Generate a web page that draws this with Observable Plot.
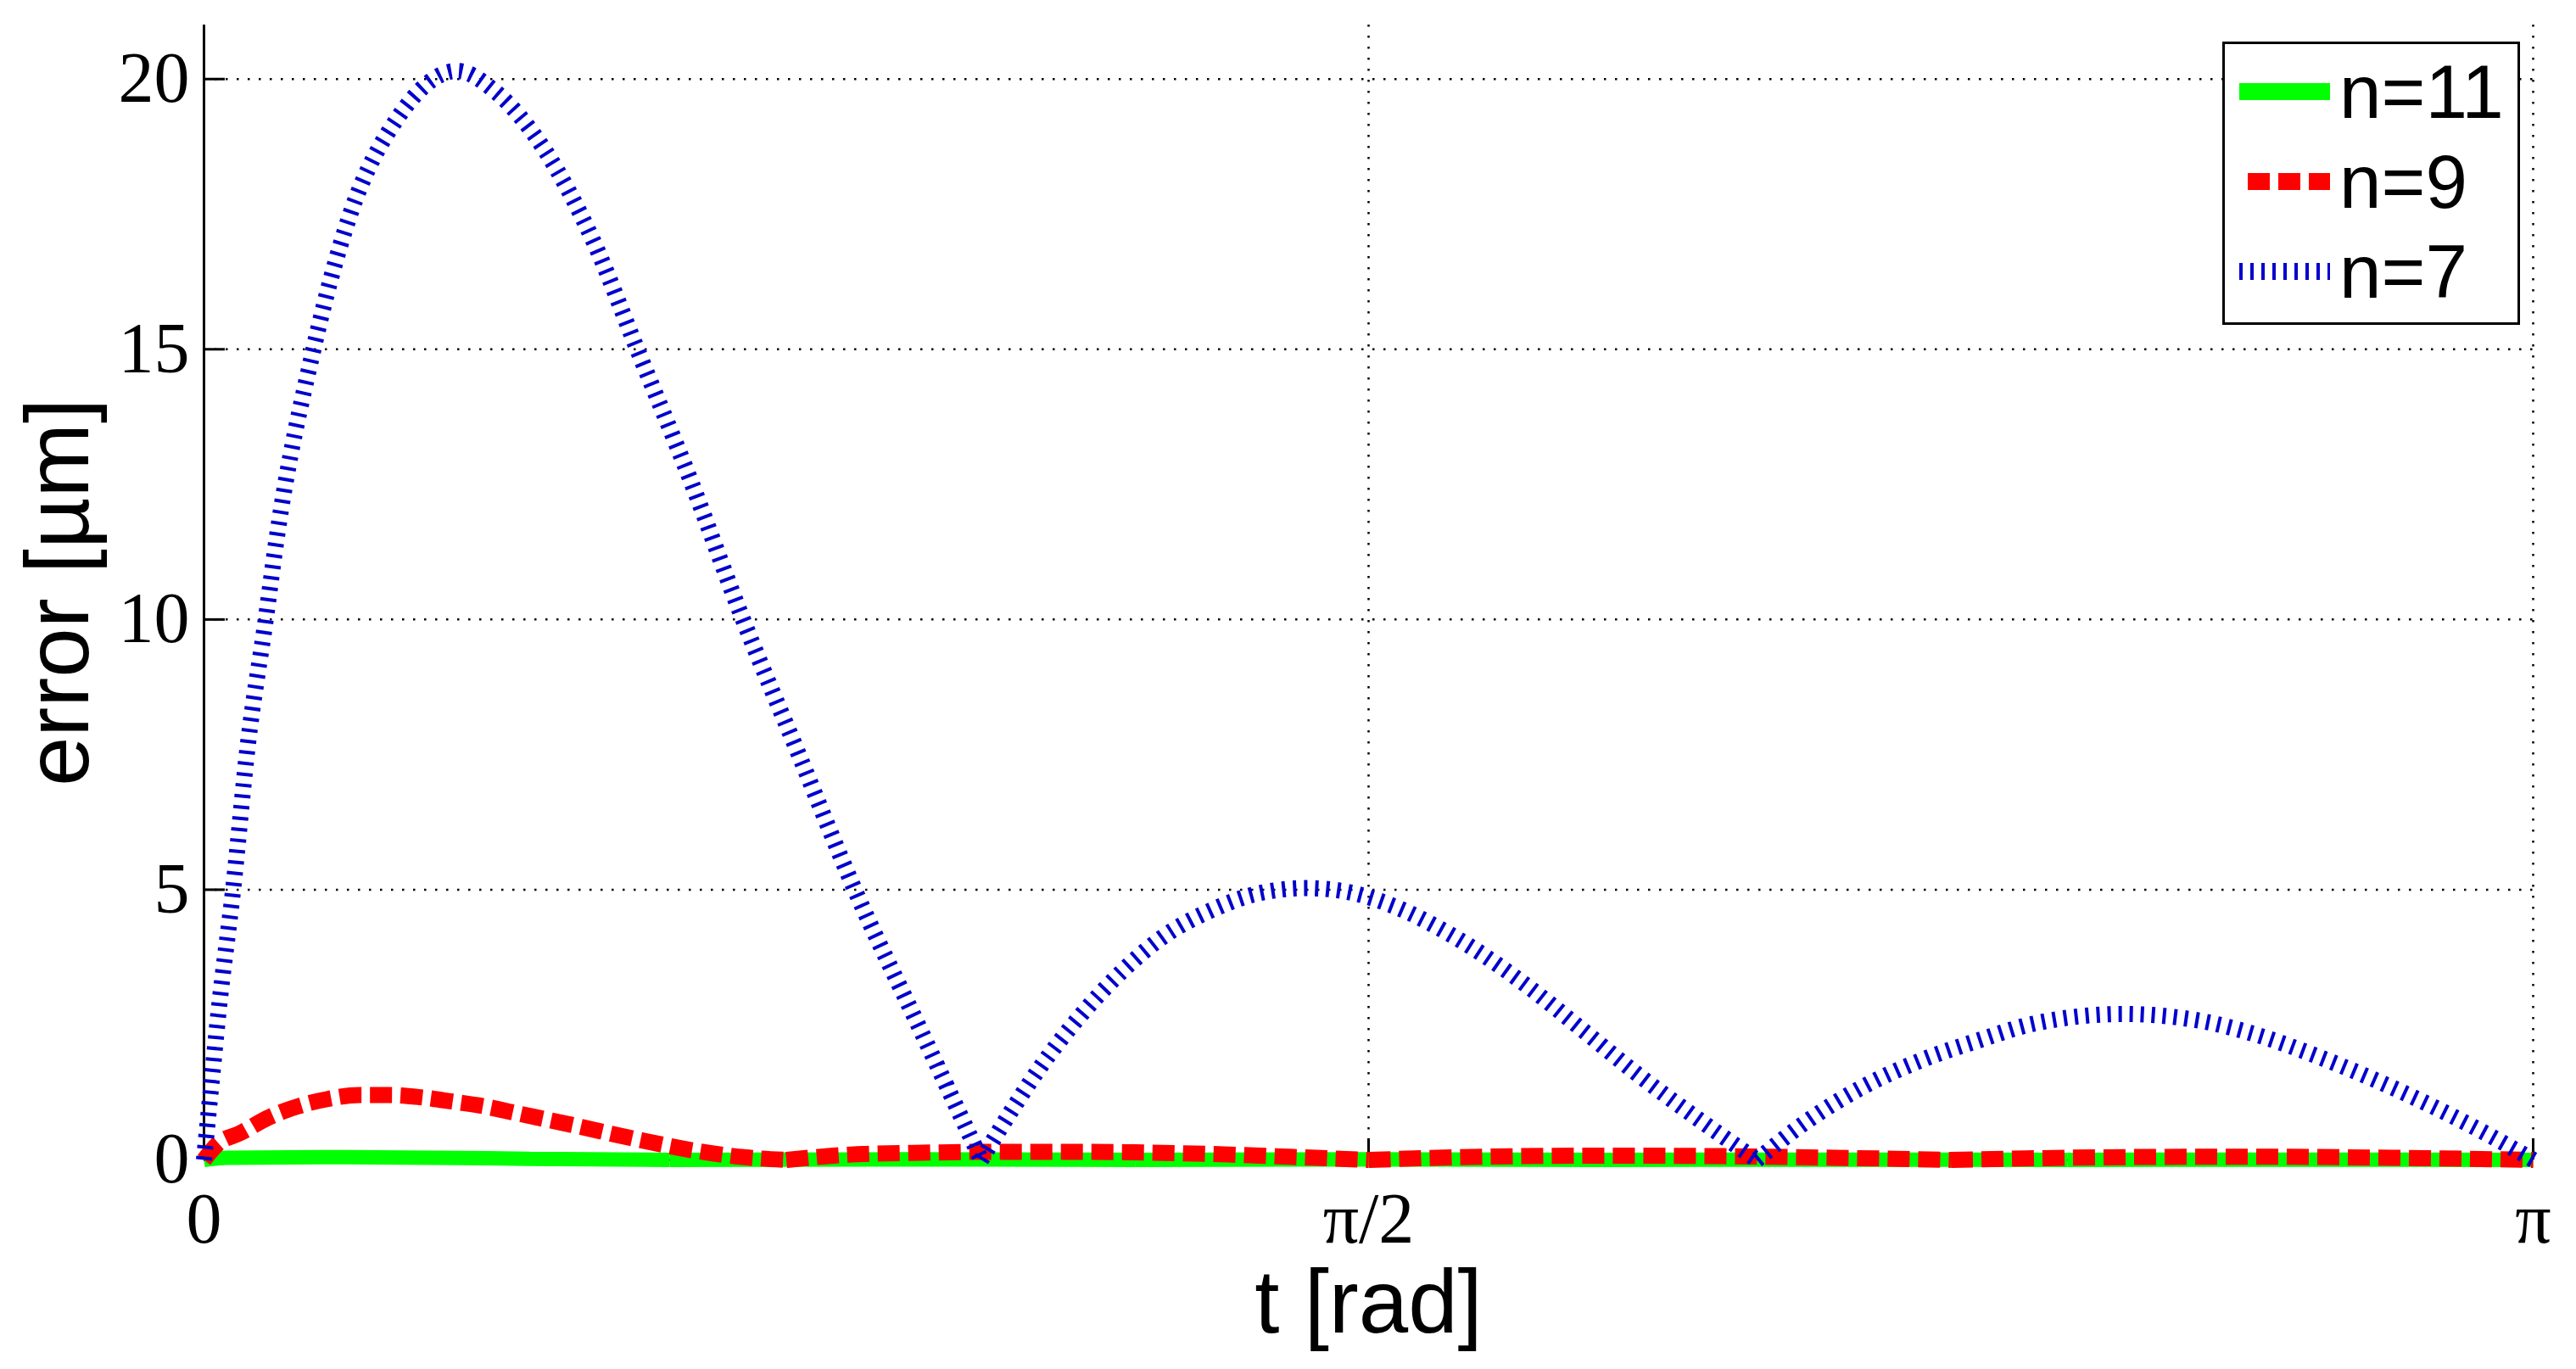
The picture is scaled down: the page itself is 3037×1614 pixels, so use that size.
<!DOCTYPE html>
<html>
<head>
<meta charset="utf-8">
<script src="https://cdn.jsdelivr.net/npm/d3@7"></script>
<script src="https://cdn.jsdelivr.net/npm/@observablehq/plot@0.6"></script>
<style>
  html, body { margin: 0; padding: 0; background: #fff; }
  #wrap { position: relative; width: 3037px; height: 1614px; background: #fff; }
  #legend { position: absolute; left: 2620px; top: 49px; width: 351px; height: 334px;
            border: 3px solid #000; box-sizing: border-box; background: #fff;
            font-family: "Liberation Sans", Arial, sans-serif; font-size: 89px; color: #000; }
  .row { position: absolute; left: 17px; height: 100px; display: flex; align-items: center; }
  .row svg { display: block; }
  .row span { margin-left: 11px; line-height: 1; }
</style>
</head>
<body>
<div id="wrap"><div id="legend"></div></div>
<script>
// ---- tick definitions ----
const xTicks = [0, 0.5, 1];              // in units of π
const xTickLabels = ["0", "π/2", "π"];
const yTicks = [0, 5, 10, 15, 20];

// ---- series (t in units of π, error in µm) ----
const seriesNames = ["n=11", "n=9", "n=7"];
const seriesColors = ["#00ff00", "#ff0000", "#0000cc"];

const tN11 = [0, 0.01, 0.05, 0.1, 0.14, 0.2, 0.3, 0.4, 0.5, 0.6, 0.7, 0.8, 0.9, 1];
const vN11 = [0, 0.04, 0.05, 0.04, 0.02, 0, 0.01, 0, 0.01, 0, 0.005, 0, 0.005, 0];

const tN9 = [0, 0.006, 0.0157, 0.028, 0.041, 0.0535, 0.0667, 0.08, 0.093, 0.1066, 0.1206, 0.1337,
             0.1588, 0.186, 0.211, 0.232, 0.25, 0.278, 0.305, 0.34, 0.37, 0.40, 0.44, 0.47, 0.5,
             0.55, 0.6, 0.65, 0.7, 0.75, 0.8, 0.87, 0.94, 1];
const vN9 = [0, 0.3, 0.5, 0.79, 1.0, 1.13, 1.2, 1.2, 1.16, 1.08, 0.99, 0.87,
             0.64, 0.38, 0.17, 0.05, 0, 0.1, 0.13, 0.15, 0.15, 0.14, 0.1, 0.05, 0,
             0.06, 0.08, 0.07, 0.04, 0, 0.04, 0.06, 0.04, 0];

const tN7 = [0, 0.0031, 0.0063, 0.0125, 0.0188, 0.0265, 0.0313, 0.047, 0.0627, 0.0836, 0.1087,
             0.1253, 0.1464, 0.1672, 0.186, 0.2087, 0.2314, 0.2554, 0.2794, 0.3066, 0.3337,
             0.348, 0.3596, 0.3759, 0.3944, 0.4108, 0.434, 0.4525, 0.4734, 0.4897, 0.5106, 0.534,
             0.5687, 0.592, 0.615, 0.6385, 0.6667,
             0.689, 0.713, 0.737, 0.761, 0.7854, 0.824, 0.8577, 0.8817, 0.906, 0.930, 0.954, 0.978, 1];
const vN7 = [0, 1.37, 2.76, 5.0, 7.67, 10.0, 11.53, 15.0, 17.49, 19.31, 20.15,
             19.76, 18.68, 17.0, 15.0, 12.6, 10.0, 7.5, 5.0, 2.5, 0,
             1.0, 1.75, 2.65, 3.5, 4.1, 4.65, 4.93, 5.03, 4.97, 4.7, 4.2,
             3.2, 2.4, 1.6, 0.85, 0,
             0.74, 1.37, 1.84, 2.2, 2.52, 2.7, 2.57, 2.31, 1.94, 1.52, 1.05, 0.53, 0];

const lineWidths = [17, 19, 19];
const lineDashes = ["none", "26,10", "4,9"];

// build a table; each interior zero closes one arch and opens the next (sharp V at zeros)
function rows(name, t, v) {
  const out = [];
  let arch = 0;
  t.forEach((d, i) => {
    out.push({series: name, arch, t: d * Math.PI, v: v[i]});
    if (v[i] === 0 && i > 0 && i < t.length - 1) {
      arch += 1;
      out.push({series: name, arch, t: d * Math.PI, v: v[i]});
    }
  });
  return out;
}
const dataN11 = rows(seriesNames[0], tN11, vN11);
const dataN9 = rows(seriesNames[1], tN9, vN9);
const dataN7 = rows(seriesNames[2], tN7, vN7);

const xTickVals = xTicks.map(d => d * Math.PI);
const xFmt = d => xTickLabels[xTickVals.findIndex(x => Math.abs(x - d) < 1e-9)];

const gridStyle = {stroke: "#000", strokeOpacity: 1, strokeWidth: 2.5, strokeDasharray: "2.5,10.5"};
const lineStyle = i => ({x: "t", y: "v", z: "arch", stroke: seriesColors[i], strokeWidth: lineWidths[i],
                         strokeDasharray: lineDashes[i], strokeLinecap: "butt", strokeLinejoin: "miter",
                         curve: "monotone-x"});

const chart = Plot.plot({
  width: 3037,
  height: 1614,
  marginLeft: 240,
  marginRight: 51,
  marginTop: 29,
  marginBottom: 247,
  style: {background: "#fff", color: "#000"},
  x: {domain: [0, Math.PI]},
  y: {domain: [0, 21]},
  marks: [
    Plot.gridX(xTickVals.slice(1), gridStyle),
    Plot.gridY(yTicks.slice(1), gridStyle),
    Plot.ruleX([0], {stroke: "#000", strokeWidth: 3}),
    Plot.ruleY([0], {stroke: "#000", strokeWidth: 3}),
    Plot.axisY(yTicks, {tickSize: -25, tickPadding: 42, strokeWidth: 3, fontSize: 84,
                        fontFamily: "Liberation Serif", tickFormat: d => String(d), label: null}),
    Plot.axisX(xTickVals, {tickSize: -25, tickPadding: 63, strokeWidth: 3, fontSize: 84,
                           fontFamily: "Liberation Serif", tickFormat: xFmt, label: null}),
    Plot.axisY([], {label: "error [µm]", labelAnchor: "center", labelArrow: "none", labelOffset: 211,
                    fontSize: 105, fontFamily: "Liberation Sans"}),
    Plot.axisX([], {label: "t [rad]", labelAnchor: "center", labelArrow: "none", labelOffset: 203,
                    fontSize: 105, fontFamily: "Liberation Sans"}),
    Plot.line(dataN11, lineStyle(0)),
    Plot.line(dataN9, lineStyle(1)),
    Plot.line(dataN7, lineStyle(2))
  ]
});

const wrap = document.getElementById("wrap");
wrap.insertBefore(chart, wrap.firstChild);

// legend
const legend = document.getElementById("legend");
const rowCenters = [56, 162, 268];
seriesNames.forEach((name, i) => {
  const row = document.createElement("div");
  row.className = "row";
  row.style.top = (rowCenters[i] - 50) + "px";
  const dash = lineDashes[i] !== "none" ? `stroke-dasharray="${lineDashes[i]}"` : "";
  const off = i === 1 ? 'stroke-dashoffset="-10"' : "";
  row.innerHTML = `<svg width="107" height="30"><line x1="0" x2="107" y1="15" y2="15" stroke="${seriesColors[i]}" stroke-width="20" stroke-linecap="butt" ${dash} ${off}/></svg><span>${name}</span>`;
  legend.appendChild(row);
});
</script>
</body>
</html>
